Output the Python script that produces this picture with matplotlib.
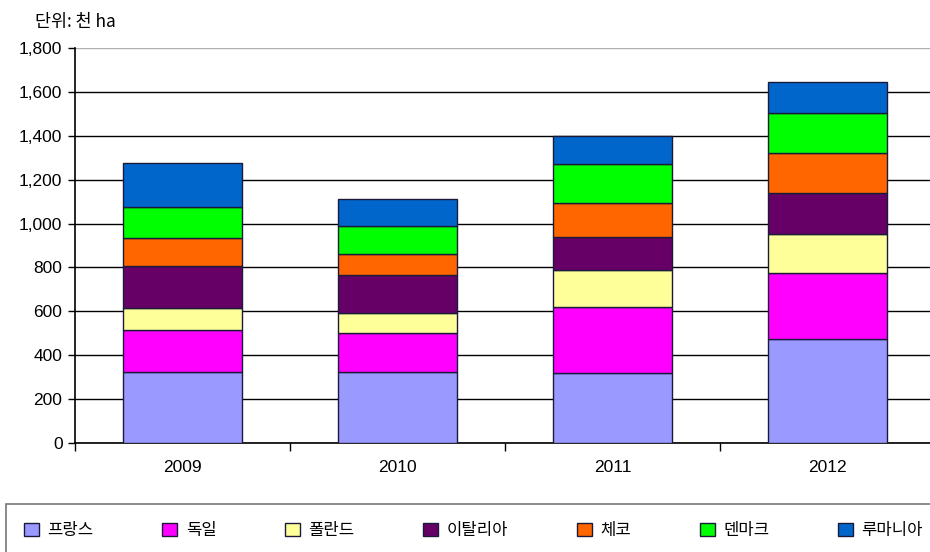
import numpy as np
import matplotlib
matplotlib.use("Agg")
import matplotlib.pyplot as plt

plt.rcParams['font.family'] = ['Liberation Sans', 'Noto Sans CJK KR', 'DejaVu Sans']

years = ['2009', '2010', '2011', '2012']
countries = ['프랑스', '독일', '폴란드', '이탈리아', '체코', '덴마크', '루마니아']
colors = ['#9999ff', '#ff00ff', '#ffff99', '#660066', '#ff6600', '#00ff00', '#0066cc']

france = [325, 325, 318, 473]
germany = [190, 175, 303, 301]
poland = [102, 91, 168, 179]
italy = [190, 175, 151, 185]
czech = [126, 95, 153, 185]
denmark = [144, 128, 179, 182]
romania = [198, 123, 127, 142]
series = [france, germany, poland, italy, czech, denmark, romania]

fig = plt.figure(figsize=(9.3, 5.52), dpi=100)
ax = fig.add_axes([75/930, 1 - 443/552, 860/930, 395/552])

x = np.arange(len(years))
bottom = np.zeros(len(years))
handles = []
for name, vals, c in zip(countries, series, colors):
    b = ax.bar(x, vals, width=0.555, bottom=bottom, color=c, edgecolor='#1a1a3a',
               linewidth=1.0, label=name, zorder=3)
    handles.append(b)
    bottom += np.array(vals)

ax.set_xlim(-0.5, 3.5)
ax.set_ylim(0, 1800)
ax.set_yticks(np.arange(0, 1801, 200))
ax.set_yticklabels([f'{v:,}' for v in range(0, 1801, 200)], fontsize=12.5)
ax.yaxis.grid(True, color='black', linewidth=1.0, zorder=0)
ax.get_ygridlines()[-1].set_color('#b0b0b0')
ax.set_xticks(x)
ax.set_xticklabels(years, fontsize=12.5)
ax.tick_params(axis='x', length=0, pad=12)
ax.set_xticks(np.arange(-0.5, 4, 1), minor=True)
ax.tick_params(axis='x', which='minor', length=6, width=1, direction='out')
ax.tick_params(axis='y', length=5, width=1, direction='out', pad=4)
for s in ['top', 'right']:
    ax.spines[s].set_visible(False)
ax.spines['left'].set_linewidth(1.2)
ax.spines['bottom'].set_linewidth(1.2)
ax.set_axisbelow(True)

fig.text(35/930, 1 - 22/552, '단위: 천 ha', fontsize=12.5, va='center', ha='left',
         family=['Noto Sans CJK KR', 'DejaVu Sans'])

leg = fig.legend(handles=handles, labels=countries, loc='lower left',
                 bbox_to_anchor=(6/930, -0.01, 935/930, 50/552), mode='expand',
                 ncol=7, frameon=True, fancybox=False, edgecolor='#555555',
                 handlelength=0.9, handleheight=0.9, handletextpad=0.5,
                 borderaxespad=0.0, borderpad=1.1,
                 prop={'family': 'Noto Sans CJK KR', 'size': 12})
leg.get_frame().set_linewidth(1.2)

fig.savefig('out.png', dpi=100)
